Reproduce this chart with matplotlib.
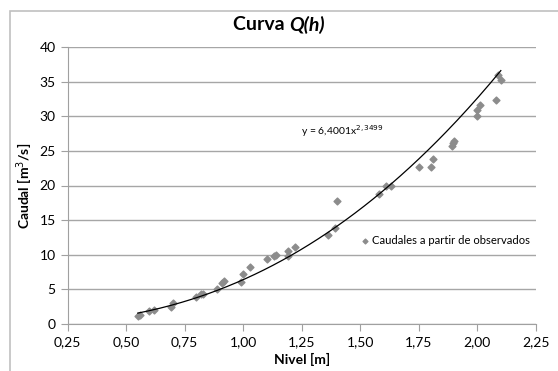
import numpy as np
import matplotlib
matplotlib.use("Agg")
import matplotlib.pyplot as plt
from matplotlib.patches import Rectangle
from matplotlib.ticker import FuncFormatter

plt.rcParams['font.family'] = ['Lato', 'DejaVu Sans']

# observed levels [m] and flows [m3/s]
nivel = [0.55, 0.56, 0.60, 0.62, 0.69, 0.70, 0.80, 0.82, 0.83, 0.89, 0.91, 0.92,
         0.99, 1.00, 1.03, 1.10, 1.13, 1.14, 1.19, 1.19, 1.22, 1.36, 1.39, 1.40,
         1.58, 1.61, 1.63, 1.75, 1.80, 1.81, 1.89, 1.895, 1.90, 2.00, 2.00, 2.01,
         2.08, 2.09, 2.10]
caudal = [1.2, 1.3, 1.9, 2.0, 2.5, 3.0, 3.9, 4.3, 4.4, 5.1, 5.9, 6.2,
          6.05, 7.2, 8.3, 9.4, 9.85, 10.0, 10.5, 9.8, 11.1, 12.9, 13.8, 17.7,
          18.8, 20.0, 19.9, 22.6, 22.6, 23.8, 25.7, 26.1, 26.4, 30.1, 30.9, 31.6,
          32.4, 35.9, 35.2]

# power trendline shown on chart
coef_a = 6.4001
coef_b = 2.3499

fig = plt.figure(figsize=(5.58, 3.71), dpi=100)
ax = fig.add_axes([0.121, 0.1267, 0.8395, 0.7466])

fig.patches.append(Rectangle((9.5 / 558, -0.1), 2, 1 - 10.5 / 371 + 0.1,
                             transform=fig.transFigure, fill=False,
                             edgecolor='#c0c0c0', lw=1.2))

ax.scatter(nivel, caudal, marker='D', s=12, color='#8c8c8c', zorder=3,
           label='Caudales a partir de observados')

xf = np.linspace(min(nivel), max(nivel), 200)
ax.plot(xf, coef_a * xf ** coef_b, color='black', lw=0.9, zorder=4)

ax.set_xlim(0.25, 2.25)
ax.set_ylim(0, 40)
ax.set_xticks(np.arange(0.25, 2.26, 0.25))
ax.set_yticks(np.arange(0, 41, 5))
ax.xaxis.set_major_formatter(FuncFormatter(lambda v, p: f"{v:.2f}".replace('.', ',')))

ax.grid(axis='y', color='#a6a6a6', lw=1.0)
ax.set_axisbelow(True)
for s in ['top', 'right']:
    ax.spines[s].set_visible(False)
for s in ['left', 'bottom']:
    ax.spines[s].set_color('#a0a0a0')
ax.tick_params(axis='both', colors='#a0a0a0', labelcolor='black', labelsize=10,
               length=5, direction='out')

ax.set_xlabel('Nivel [m]', fontsize=10, fontweight='bold', labelpad=4)
ax.set_ylabel('Caudal [m$^3$/s]', fontsize=10, fontweight='bold', labelpad=3)

fig.text(0.518, 0.933, 'Curva ', fontsize=14, fontweight='bold', ha='right', va='center')
fig.text(0.518, 0.933, 'Q(h)', fontsize=14, fontweight='bold', style='italic',
         ha='left', va='center')

ax.text(1.245, 27.9, 'y = 6,4001x$^{2,3499}$', fontsize=7.5, va='center')

ax.legend(loc='center left', bbox_to_anchor=(1.50, 12.1), bbox_transform=ax.transData,
          frameon=False, fontsize=8.1, handletextpad=0.2, handlelength=0.8,
          markerscale=0.7, scatterpoints=1, borderaxespad=0, borderpad=0)

fig.savefig('out.png', dpi=100)
